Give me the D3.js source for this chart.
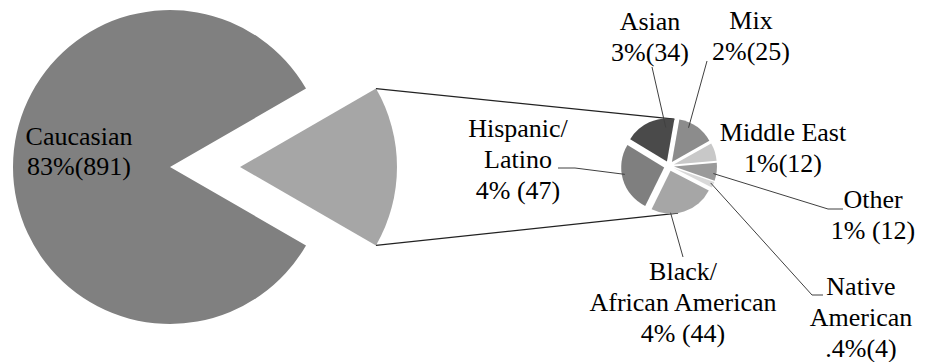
<!DOCTYPE html>
<html><head><meta charset="utf-8">
<script src="https://cdn.jsdelivr.net/npm/d3@7"></script></head>
<body style="margin:0">
<svg id="chart" width="927" height="362"></svg>
<script>
// Ethnicity breakdown: main group and the split of the remaining groups
const mainCategory = "Caucasian";
const mainCount = 891;
const mainLabel = ["Caucasian", "83%(891)"];

// Smaller groups, drawn clockwise in the secondary pie
const categories = ["Mix", "Middle East", "Other", "Native American",
                    "Black/African American", "Hispanic/Latino", "Asian"];
const counts = [25, 12, 12, 4, 44, 47, 34];
const labelLines = [
  ["Mix", "2%(25)"],
  ["Middle East", "1%(12)"],
  ["Other", "1% (12)"],
  ["Native", "American", ".4%(4)"],
  ["Black/", "African American", "4% (44)"],
  ["Hispanic/", "Latino", "4% (47)"],
  ["Asian", "3%(34)"]
];

const svg = d3.select("#chart");
const deg = Math.PI / 180;

// ---- primary pie ----
const big = { cx: 170, cy: 167, r: 157, explode: 70 };
const restCount = d3.sum(counts);
const restAngle = restCount / (restCount + mainCount) * 2 * Math.PI;
const bigPie = d3.pie().sort(null)
  .startAngle(Math.PI / 2 - restAngle / 2)
  .endAngle(Math.PI / 2 - restAngle / 2 + 2 * Math.PI);
const bigArcs = bigPie([restCount, mainCount]);
const bigArc = d3.arc().innerRadius(0).outerRadius(big.r);
const bigColors = ["#a6a6a6", "#808080"];

const gBig = svg.append("g").attr("transform", `translate(${big.cx},${big.cy})`);
gBig.selectAll("path").data(bigArcs).join("path")
  .attr("d", bigArc)
  .attr("fill", (d, i) => bigColors[i])
  .attr("transform", (d, i) => i === 0 ? `translate(${big.explode},0)` : null);

// ---- secondary pie ----
const small = { cx: 669, cy: 166, r: 43, explode: 5 };
const smallPie = d3.pie().sort(null).startAngle(10 * deg).endAngle(370 * deg);
const smallArcs = smallPie(counts);
const smallArc = d3.arc().innerRadius(0).outerRadius(small.r);
const smallColors = ["#8c8c8c", "#c8c8c8", "#9a9a9a", "#d9d9d9", "#a6a6a6", "#7f7f7f", "#4a4a4a"];

function offsetOf(d) {
  const m = (d.startAngle + d.endAngle) / 2;
  return [small.explode * Math.sin(m), -small.explode * Math.cos(m)];
}
function pointOn(d, ang, r) {
  const o = offsetOf(d);
  return [small.cx + o[0] + r * Math.sin(ang), small.cy + o[1] - r * Math.cos(ang)];
}

// connector lines between the exploded wedge and the secondary pie
const rest = bigArcs[0];
const wedgeTop = [big.cx + big.explode + big.r * Math.sin(rest.startAngle), big.cy - big.r * Math.cos(rest.startAngle)];
const wedgeBot = [big.cx + big.explode + big.r * Math.sin(rest.endAngle), big.cy - big.r * Math.cos(rest.endAngle)];
const asian = smallArcs[6], black = smallArcs[4];
const pieTop = pointOn(asian, 10 * deg, small.r);
const pieBot = pointOn(black, 170 * deg, small.r);
svg.append("line").attr("x1", wedgeTop[0]).attr("y1", wedgeTop[1]).attr("x2", pieTop[0]).attr("y2", pieTop[1])
  .attr("stroke", "#222").attr("stroke-width", 1.2);
svg.append("line").attr("x1", wedgeBot[0]).attr("y1", wedgeBot[1]).attr("x2", pieBot[0]).attr("y2", pieBot[1])
  .attr("stroke", "#222").attr("stroke-width", 1.2);

const gSmall = svg.append("g").attr("transform", `translate(${small.cx},${small.cy})`);
gSmall.selectAll("path").data(smallArcs).join("path")
  .attr("d", smallArc)
  .attr("fill", (d, i) => smallColors[i])
  .attr("transform", d => `translate(${offsetOf(d)[0]},${offsetOf(d)[1]})`);

// ---- labels: one text element per line, Times-style serif ----
function drawLabel(lines, x, y, lh) {
  lines.forEach((s, i) => {
    svg.append("text")
      .attr("x", x)
      .attr("y", y + i * lh)
      .attr("text-anchor", "middle")
      .attr("font-family", "'Times New Roman'")
      .style("font-family", "'Times New Roman'")
      .attr("font-size", 26)
      .text(s);
  });
}
drawLabel(mainLabel, 79, 145, 30);

// label anchor (centre x, first baseline) and leader polyline per small slice
const layout = [
  { x: 751, y: 29, leader: [[707, 61], null] },               // Mix
  { x: 783, y: 141, leader: null },                          // Middle East
  { x: 873, y: 208, leader: [null, [828, 209], [843, 209]] }, // Other
  { x: 861, y: 295, leader: [null, [812, 295], [823, 295]] }, // Native American
  { x: 683, y: 280, leader: [null, [683, 257]] },             // Black/African American
  { x: 518, y: 137, leader: [[558, 168], [575, 168], null] }, // Hispanic/Latino
  { x: 650, y: 30, leader: [[652, 67], null] }                // Asian
];
// points on each slice where its leader line meets it
const leaderAngles = [26, null, 100, 112, 180, 260, 358];
const leaderRadius = [38, null, 40, 40, 42, 40, 34];

smallArcs.forEach((d, i) => {
  const L = layout[i];
  drawLabel(labelLines[i], L.x, L.y, 31);
  if (!L.leader) return;
  const sp = pointOn(d, leaderAngles[i] * deg, leaderRadius[i]);
  const pts = L.leader.map(p => p === null ? sp : p);
  svg.append("path")
    .attr("d", d3.line()(pts))
    .attr("fill", "none")
    .attr("stroke", "#404040")
    .attr("stroke-width", 1);
});
</script>
</body>
</html>
